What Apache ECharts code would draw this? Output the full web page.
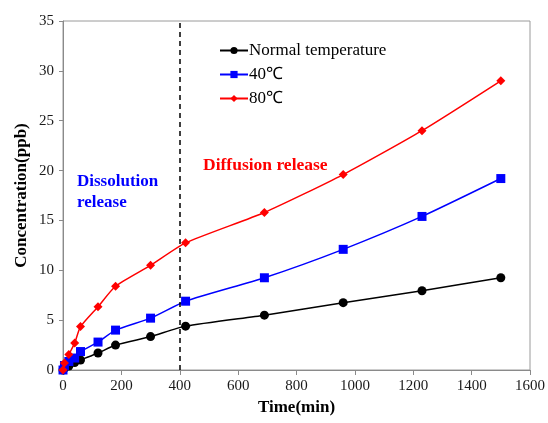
<!DOCTYPE html>
<html>
<head>
<meta charset="utf-8">
<script src="https://cdn.jsdelivr.net/npm/echarts@6/dist/echarts.min.js"></script>
<style>
  html, body { margin: 0; padding: 0; background: #fff; }
  #chart { width: 548px; height: 423px; }
</style>
</head>
<body>
<div id="chart"></div>
<script>
// time points (min)
const times = [0, 5, 20, 40, 60, 120, 180, 300, 420, 690, 960, 1230, 1500];
const normalTemp = [0, 0.2, 0.4, 0.75, 1.0, 1.7, 2.5, 3.35, 4.4, 5.5, 6.75, 7.95, 9.25];
const temp40 = [0, 0.45, 0.85, 1.2, 1.85, 2.8, 4.0, 5.2, 6.9, 9.25, 12.1, 15.4, 19.2];
const temp80 = [0, 0.7, 1.55, 2.7, 4.35, 6.35, 8.4, 10.5, 12.75, 15.8, 19.6, 24.0, 29.0];
const seriesNames = ['Normal temperature', '40\u2103', '80\u2103'];
const boundaryTime = 400;

const FONT = '"Liberation Serif", "Times New Roman", serif';

function pairs(vals) {
    return times.map((t, i) => [t, vals[i]]);
}

const chart = echarts.init(document.getElementById('chart'));

chart.setOption({
    animation: false,
    grid: {
        left: 63, top: 21, right: 17, bottom: 53,
        show: true, borderColor: '#9a9a9a', borderWidth: 1
    },
    legend: {
        orient: 'vertical',
        left: 214, top: 37,
        itemWidth: 28, itemHeight: 9, itemGap: 7,
        textStyle: { fontFamily: FONT, fontSize: 17, color: '#000', padding: [0, 0, 0, -4] },
        data: seriesNames
    },
    xAxis: {
        type: 'value', min: 0, max: 1600, interval: 200,
        name: 'Time(min)', nameLocation: 'middle', nameGap: 28,
        nameTextStyle: { fontFamily: FONT, fontSize: 17, fontWeight: 'bold', color: '#000' },
        axisLine: { lineStyle: { color: '#8a8a8a', width: 1 } },
        axisTick: { show: true, length: 5, lineStyle: { color: '#8a8a8a' } },
        axisLabel: { fontFamily: FONT, fontSize: 15, color: '#1a1a1a', margin: 9, formatter: v => String(v) },
        splitLine: { show: false }
    },
    yAxis: {
        type: 'value', min: 0, max: 35, interval: 5,
        name: 'Concentration(ppb)', nameLocation: 'middle', nameGap: 33,
        nameMoveOverlap: false,
        nameTextStyle: { fontFamily: FONT, fontSize: 17, fontWeight: 'bold', color: '#000' },
        axisLine: { show: true, lineStyle: { color: '#8a8a8a', width: 1 } },
        axisTick: { show: true, length: 4, lineStyle: { color: '#8a8a8a' } },
        axisLabel: { fontFamily: FONT, fontSize: 15, color: '#1a1a1a', margin: 9 },
        splitLine: { show: false }
    },
    graphic: [
        {
            type: 'text', left: 77, top: 171,
            style: {
                text: 'Dissolution\nrelease', fill: '#0000ff',
                font: 'bold 17px ' + FONT, lineHeight: 21
            }
        },
        {
            type: 'text', left: 203, top: 156,
            style: {
                text: 'Diffusion release', fill: '#ff0000',
                font: 'bold 17.5px ' + FONT
            }
        }
    ],
    series: [
        {
            name: seriesNames[0], type: 'line', data: pairs(normalTemp),
            smooth: 0.2,
            symbol: 'circle', symbolSize: 9,
            lineStyle: { color: '#000', width: 1.5 },
            itemStyle: { color: '#000' }
        },
        {
            name: seriesNames[1], type: 'line', data: pairs(temp40),
            smooth: 0.2,
            symbol: 'rect', symbolSize: 9,
            lineStyle: { color: '#0000ff', width: 1.5 },
            itemStyle: { color: '#0000ff' }
        },
        {
            name: seriesNames[2], type: 'line', data: pairs(temp80),
            smooth: 0.2,
            symbol: 'diamond', symbolSize: 9,
            lineStyle: { color: '#ff0000', width: 1.5 },
            itemStyle: { color: '#ff0000' },
            markLine: {
                silent: true, symbol: 'none',
                label: { show: false },
                lineStyle: { color: '#000', type: [5, 4], width: 1.5 },
                data: [{ xAxis: boundaryTime }]
            }
        }
    ]
});
</script>
</body>
</html>
